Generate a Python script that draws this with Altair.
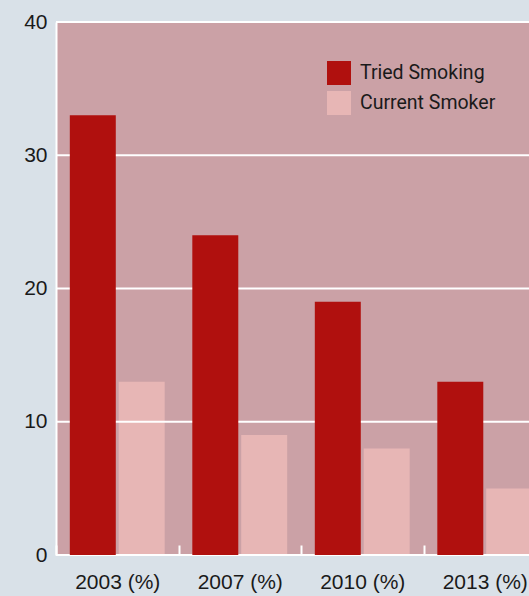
import altair as alt
import pandas as pd

# Survey years (category labels) and the two smoking measures, in percent
years = ["2003 (%)", "2007 (%)", "2010 (%)", "2013 (%)"]
tried_smoking = [33, 24, 19, 13]
current_smoker = [13, 9, 8, 5]
series = ["Tried Smoking", "Current Smoker"]
series_colors = ["#b0100e", "#e7b6b5"]
y_ticks = [0, 10, 20, 30, 40]

df = pd.DataFrame({
    "year": years * 2,
    "group": [series[0]] * len(years) + [series[1]] * len(years),
    "value": tried_smoking + current_smoker,
})
grid_df = pd.DataFrame({"value": y_ticks})

label_color = "#1a1a1a"

# each year fills a full band; the gaps between groups come from the
# outer padding of the offset scale, so band-extent ticks fall between groups
x_enc = alt.X(
    "year:N",
    sort=years,
    scale=alt.Scale(range=[0, 490], paddingInner=0, paddingOuter=0),
    axis=alt.Axis(
        title=None, labelAngle=0, domain=False, grid=False,
        ticks=True, tickBand="extent", tickColor="white", tickWidth=2,
        tickSize=10, offset=-10, labelPadding=16,
        labelFontSize=21, labelColor=label_color, labelFont="Liberation Sans",
    ),
)
xoff_enc = alt.XOffset(
    "group:N", sort=series,
    scale=alt.Scale(domain=series, paddingInner=0.06, paddingOuter=0.2825),
)
y_enc = alt.Y(
    "value:Q",
    scale=alt.Scale(domain=[0, 40], nice=False),
    axis=alt.Axis(
        title=None, values=y_ticks, grid=False, ticks=False, tickSize=0,
        domainColor="white", domainWidth=2, labelPadding=9,
        labelFontSize=21, labelColor=label_color, labelFont="Liberation Sans",
    ),
)
color_enc = alt.Color(
    "group:N",
    scale=alt.Scale(domain=series, range=series_colors),
    legend=alt.Legend(
        title=None, orient="none", legendX=271, legendY=39,
        symbolType="square", symbolSize=576, symbolStrokeWidth=0,
        labelFontSize=19.5, labelFont="Roboto",
        labelColor=label_color, labelOffset=9, rowPadding=6, padding=0,
    ),
)

base = alt.Chart(df).mark_bar().encode(
    x=x_enc, xOffset=xoff_enc, y=y_enc, color=color_enc
)

# light bars sit under the white gridlines, dark bars on top of them
light = base.transform_filter(alt.datum.group == series[1])
grid = alt.Chart(grid_df).mark_rule(color="white", strokeWidth=2).encode(
    y=alt.Y("value:Q")
)
dark = base.transform_filter(alt.datum.group == series[0])

chart = alt.layer(light, grid, dark).properties(
    width=473,
    height=533,
    background="#d9e1e8",
    padding={"left": 56, "top": 22, "right": 0, "bottom": 41},
    autosize=alt.AutoSizeParams(type="none"),
).configure_view(
    fill="#cba1a6", strokeWidth=0
)

chart.save("out.html", embed_options={"renderer": "svg", "actions": False})
